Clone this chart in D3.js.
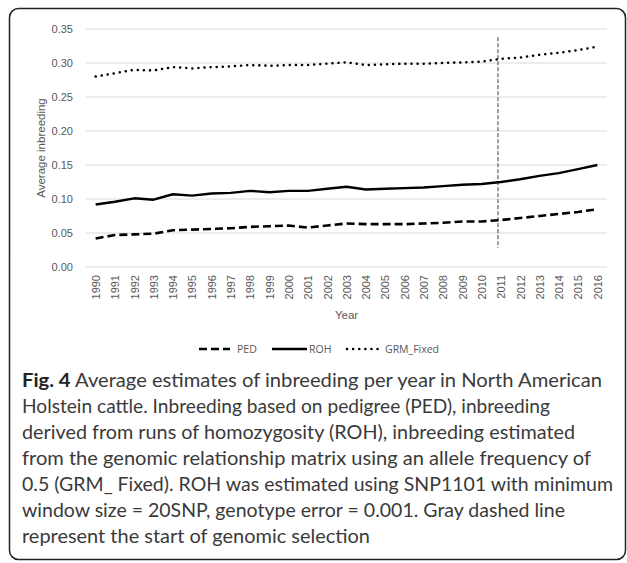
<!DOCTYPE html>
<html>
<head>
<meta charset="utf-8">
<script src="https://cdn.jsdelivr.net/npm/d3@7"></script>
<style>
  body { margin: 0; background: #fff; }
  svg { display: block; }
</style>
</head>
<body>
<div id="chart"></div>
<script>
// data
var years = [1990,1991,1992,1993,1994,1995,1996,1997,1998,1999,2000,2001,2002,2003,
             2004,2005,2006,2007,2008,2009,2010,2011,2012,2013,2014,2015,2016];
var ped = [0.042,0.047,0.048,0.049,0.054,0.055,0.056,0.057,0.059,0.060,0.061,0.058,0.061,0.064,
           0.063,0.063,0.063,0.064,0.065,0.067,0.067,0.069,0.072,0.075,0.078,0.081,0.085];
var roh = [0.092,0.096,0.101,0.099,0.107,0.105,0.108,0.109,0.112,0.110,0.112,0.112,0.115,0.118,
           0.114,0.115,0.116,0.117,0.119,0.121,0.122,0.125,0.129,0.134,0.138,0.144,0.150];
var grm = [0.280,0.285,0.290,0.289,0.294,0.292,0.294,0.295,0.297,0.296,0.297,0.297,0.299,0.301,
           0.297,0.298,0.299,0.299,0.300,0.301,0.302,0.306,0.308,0.312,0.315,0.319,0.324];
var yTicks = [0, 0.05, 0.10, 0.15, 0.20, 0.25, 0.30, 0.35];
var seriesNames = ["PED", "ROH", "GRM_Fixed"];
var selectionYear = 2011;
var selectionRange = [0.028, 0.338];

var captionLines = [
  {bold: "Fig. 4", text: " Average estimates of inbreeding per year in North American", w: 580},
  {text: "Holstein cattle. Inbreeding based on pedigree (PED), inbreeding", w: 528},
  {text: "derived from runs of homozygosity (ROH), inbreeding estimated", w: 553},
  {text: "from the genomic relationship matrix using an allele frequency of", w: 569},
  {text: "0.5 (GRM_ Fixed). ROH was estimated using SNP1101 with minimum", w: 591},
  {text: "window size = 20SNP, genotype error = 0.001. Gray dashed line", w: 543},
  {text: "represent the start of genomic selection", w: 348}
];

var svgWidth = 627, svgHeight = 563;
var plot = {left: 86, right: 607, top: 29, bottom: 267};
var axisColor = "#595959";
var axisFont = "Liberation Sans, Arial, sans-serif";

var svg = d3.select("#chart").append("svg")
  .attr("width", svgWidth)
  .attr("height", svgHeight);

// outer frame
svg.append("rect")
  .attr("x", 9.5).attr("y", 8.5)
  .attr("width", 616).attr("height", 551)
  .attr("rx", 9)
  .attr("fill", "none")
  .attr("stroke", "#222")
  .attr("stroke-width", 1.5);

var x = d3.scalePoint().domain(years).range([plot.left, plot.right]).padding(0.5);
var y = d3.scaleLinear().domain([0, 0.35]).range([plot.bottom, plot.top]);

// gridlines
svg.append("g").selectAll("line")
  .data(yTicks).enter().append("line")
  .attr("x1", plot.left).attr("x2", plot.right)
  .attr("y1", d => y(d)).attr("y2", d => y(d))
  .attr("stroke", "#d9d9d9").attr("stroke-width", 1);

// y axis labels
var leftAxis = d3.axisLeft(y).tickValues(yTicks).tickFormat(d3.format(".2f")).tickSize(0).tickPadding(13);
var gy = svg.append("g").attr("transform", `translate(${plot.left},0)`).call(leftAxis);
gy.select(".domain").remove();
gy.selectAll("text")
  .attr("font-family", axisFont)
  .attr("font-size", 11)
  .attr("fill", axisColor);

// x axis labels (rotated)
var bottomAxis = d3.axisBottom(x).tickSize(0);
var gx = svg.append("g").attr("transform", `translate(0,${plot.bottom})`).call(bottomAxis);
gx.select(".domain").remove();
gx.selectAll("text")
  .attr("font-family", axisFont)
  .attr("font-size", 11)
  .attr("fill", axisColor)
  .attr("transform", "rotate(-90)")
  .attr("text-anchor", "end")
  .attr("x", -8)
  .attr("y", 0)
  .attr("dy", "0.35em");

// axis titles
svg.append("text")
  .attr("x", (plot.left + plot.right) / 2)
  .attr("y", 319)
  .attr("text-anchor", "middle")
  .attr("font-family", axisFont)
  .attr("font-size", 11.5)
  .attr("fill", axisColor)
  .text("Year");

svg.append("text")
  .attr("transform", `translate(45,148) rotate(-90)`)
  .attr("text-anchor", "middle")
  .attr("font-family", axisFont)
  .attr("font-size", 11.5)
  .attr("fill", axisColor)
  .text("Average inbreeding");

// start of genomic selection
var sx = x(selectionYear) - x.step() * 0.15;
svg.append("line")
  .attr("x1", sx).attr("x2", sx)
  .attr("y1", y(selectionRange[1])).attr("y2", y(selectionRange[0]))
  .attr("stroke", "#404040")
  .attr("stroke-width", 1)
  .attr("stroke-dasharray", "4,2");

var styles = [
  {values: ped, width: 2.6, dash: "8,4", cap: "butt"},
  {values: roh, width: 2.4, dash: null, cap: "butt"},
  {values: grm, width: 2.5, dash: "0.1,6", cap: "round"}
];

var line = d3.line()
  .x((d, i) => x(years[i]))
  .y(d => y(d));

styles.forEach(function(s) {
  svg.append("path")
    .datum(s.values)
    .attr("d", line)
    .attr("fill", "none")
    .attr("stroke", "#000")
    .attr("stroke-width", s.width)
    .attr("stroke-linecap", s.cap)
    .attr("stroke-linejoin", "round")
    .attr("stroke-dasharray", s.dash);
});

// legend
var legendY = 349;
var legendItems = [
  {x1: 199, x2: 230, tx: 237},
  {x1: 272, x2: 307, tx: 309},
  {x1: 347, x2: 382, tx: 385}
];
legendItems.forEach(function(item, i) {
  var s = styles[i];
  svg.append("line")
    .attr("x1", item.x1).attr("x2", item.x2)
    .attr("y1", legendY).attr("y2", legendY)
    .attr("stroke", "#000")
    .attr("stroke-width", s.width)
    .attr("stroke-linecap", s.cap)
    .attr("stroke-dasharray", s.dash);
  svg.append("text")
    .attr("x", item.tx)
    .attr("y", legendY)
    .attr("dy", "0.35em")
    .attr("font-family", "Open Sans, sans-serif")
    .attr("font-size", 10.5)
    .attr("fill", axisColor)
    .text(seriesNames[i]);
});

// caption
var cap = svg.append("g")
  .attr("font-family", "Lato, sans-serif")
  .attr("font-size", 19)
  .attr("fill", "#3a3a3a");
captionLines.forEach(function(l, i) {
  var t = cap.append("text")
    .attr("x", 22)
    .attr("y", 386.7 + i * 26.05)
    .attr("textLength", l.w)
    .attr("lengthAdjust", "spacingAndGlyphs");
  if (l.bold) t.append("tspan").attr("font-weight", "bold").attr("fill", "#222").text(l.bold);
  t.append("tspan").text(l.text);
});
</script>
</body>
</html>
